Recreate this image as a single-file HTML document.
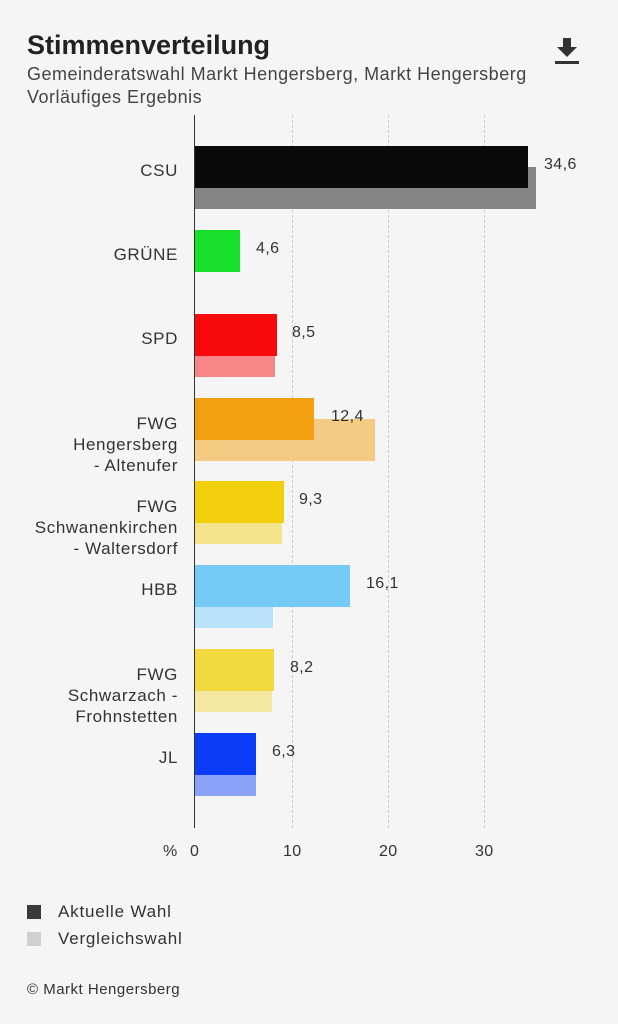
<!DOCTYPE html>
<html><head><meta charset="utf-8"><style>
body{margin:0;background:#f5f5f5;font-family:"Liberation Sans",sans-serif;color:#333}
.p{position:relative;width:618px;height:1024px;overflow:hidden}
.a{position:absolute;white-space:nowrap}
.lab{position:absolute;right:440px;text-align:right;font-size:17px;letter-spacing:0.6px;line-height:21px;color:#333}
.v{position:absolute;font-size:16px;letter-spacing:0.4px;color:#333}
.b{position:absolute;left:195px;height:42px}
.g{position:absolute;top:115px;height:713px;border-left:1px dashed #ccc}
</style></head><body><div class="p">
<div class="a" style="left:27px;top:30px;font-size:27px;font-weight:bold;color:#222">Stimmenverteilung</div>
<div class="a" style="left:27px;top:64px;font-size:18px;letter-spacing:0.5px;color:#444">Gemeinderatswahl Markt Hengersberg, Markt Hengersberg</div>
<div class="a" style="left:27px;top:87px;font-size:18px;letter-spacing:0.5px;color:#444">Vorläufiges Ergebnis</div>
<svg class="a" style="left:555px;top:38px" width="25" height="28"><path d="M8 0h8v9h6l-10 10L2 9h6z" fill="#333"/><rect x="0" y="23" width="24" height="3" fill="#333"/></svg>
<div class="g" style="left:292px"></div><div class="g" style="left:388px"></div><div class="g" style="left:484px"></div>
<div class="b" style="top:167px;width:341px;background:#858585"></div>
<div class="b" style="top:146px;width:333px;background:#0a0a0a"></div>
<div class="b" style="top:230px;width:45px;background:#18e02a"></div>
<div class="b" style="top:335px;width:80px;background:#f98686"></div>
<div class="b" style="top:314px;width:82px;background:#f80a0c"></div>
<div class="b" style="top:419px;width:180px;background:#f5ca83"></div>
<div class="b" style="top:398px;width:119px;background:#f2a00f"></div>
<div class="b" style="top:502px;width:87px;background:#f3e38a"></div>
<div class="b" style="top:481px;width:89px;background:#f1d00b"></div>
<div class="b" style="top:586px;width:78px;background:#b9e3f8"></div>
<div class="b" style="top:565px;width:155px;background:#76cbf6"></div>
<div class="b" style="top:670px;width:77px;background:#f4e8a0"></div>
<div class="b" style="top:649px;width:79px;background:#f1d83e"></div>
<div class="b" style="top:754px;width:61px;background:#8aa3f7"></div>
<div class="b" style="top:733px;width:61px;background:#0b3cf7"></div>
<div class="a" style="left:194px;top:115px;width:1px;height:713px;background:#333"></div>
<div class="lab" style="top:160px">CSU</div>
<div class="lab" style="top:244px">GRÜNE</div>
<div class="lab" style="top:328px">SPD</div>
<div class="lab" style="top:413px">FWG<br>Hengersberg<br>- Altenufer</div>
<div class="lab" style="top:496px">FWG<br>Schwanenkirchen<br>- Waltersdorf</div>
<div class="lab" style="top:579px">HBB</div>
<div class="lab" style="top:664px">FWG<br>Schwarzach -<br>Frohnstetten</div>
<div class="lab" style="top:747px">JL</div>
<div class="v" style="left:544px;top:156px">34,6</div>
<div class="v" style="left:256px;top:240px">4,6</div>
<div class="v" style="left:292px;top:324px">8,5</div>
<div class="v" style="left:331px;top:408px">12,4</div>
<div class="v" style="left:299px;top:491px">9,3</div>
<div class="v" style="left:366px;top:575px">16,1</div>
<div class="v" style="left:290px;top:659px">8,2</div>
<div class="v" style="left:272px;top:743px">6,3</div>
<div class="v" style="left:163px;top:843px">%</div>
<div class="v" style="left:190px;top:843px">0</div>
<div class="v" style="left:283px;top:843px">10</div>
<div class="v" style="left:379px;top:843px">20</div>
<div class="v" style="left:475px;top:843px">30</div>
<div class="a" style="left:27px;top:905px;width:14px;height:14px;background:#3a3a3a"></div>
<div class="a" style="left:27px;top:932px;width:14px;height:14px;background:#d0d0d0"></div>
<div class="a" style="left:58px;top:902px;font-size:17px;letter-spacing:0.8px">Aktuelle Wahl</div>
<div class="a" style="left:58px;top:929px;font-size:17px;letter-spacing:0.8px">Vergleichswahl</div>
<div class="a" style="left:27px;top:981px;font-size:15px;letter-spacing:0.5px;color:#333">© Markt Hengersberg</div>
</div></body></html>
